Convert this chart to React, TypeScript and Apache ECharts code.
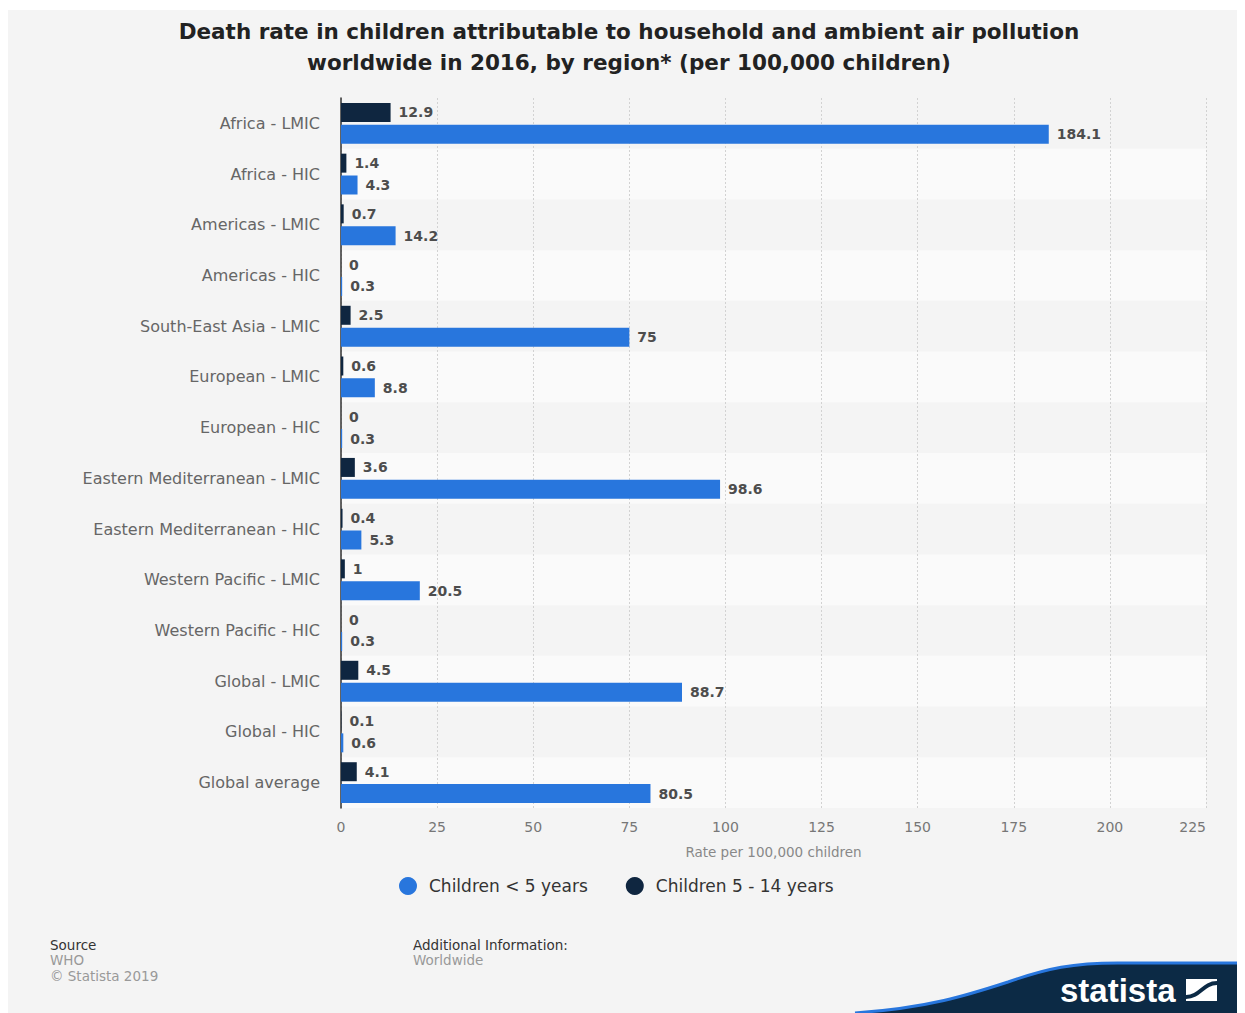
import React, { useEffect, useRef } from "react";
import * as echarts from "echarts";

const categories = [
  "Africa - LMIC",
  "Africa - HIC",
  "Americas - LMIC",
  "Americas - HIC",
  "South-East Asia - LMIC",
  "European - LMIC",
  "European - HIC",
  "Eastern Mediterranean - LMIC",
  "Eastern Mediterranean - HIC",
  "Western Pacific - LMIC",
  "Western Pacific - HIC",
  "Global - LMIC",
  "Global - HIC",
  "Global average",
];
const under5 = [184.1, 4.3, 14.2, 0.3, 75, 8.8, 0.3, 98.6, 5.3, 20.5, 0.3, 88.7, 0.6, 80.5];
const age5to14 = [12.9, 1.4, 0.7, 0, 2.5, 0.6, 0, 3.6, 0.4, 1, 0, 4.5, 0.1, 4.1];
const xTicks = { min: 0, max: 225, interval: 25 };

const FONT = '"DejaVu Sans", "Liberation Sans", Arial, sans-serif';
const BLUE = "#2876dd";
const NAVY = "#0f2640";
const W = 1245;
const H = 1010;

export default function App() {
  const ref = useRef<HTMLDivElement>(null);
  useEffect(() => {
    document.documentElement.style.overflow = "hidden";
    echarts.graphic.registerShape(
      "statwave",
      echarts.graphic.extendPath(
        "M 847 1010 L 847 1003 C 920 998 960 985 1000 972 C 1040 958 1065 953 1110 953 L 1245 953 L 1245 1010 Z",
        {}
      )
    );
    echarts.graphic.registerShape(
      "statedge",
      echarts.graphic.extendPath(
        "M 847 1003 C 920 998 960 985 1000 972 C 1040 958 1065 953 1110 953 L 1245 953",
        {}
      )
    );
    const chart = echarts.init(ref.current!, null, { renderer: "svg" });
    const labelStyle = {
      show: true,
      position: "right" as const,
      distance: 8,
      fontSize: 14,
      fontWeight: "bold" as const,
      color: "#4d4d4d",
      fontFamily: FONT,
    };
    chart.setOption({
      animation: false,
      backgroundColor: "#f4f4f4",
      textStyle: { fontFamily: FONT },
      title: {
        text: "Death rate in children attributable to household and ambient air pollution\nworldwide in 2016, by region* (per 100,000 children)",
        left: 616,
        textAlign: "center",
        top: 1,
        textStyle: {
          fontSize: 21.5,
          fontWeight: "bold",
          color: "#222",
          lineHeight: 31,
          fontFamily: FONT,
        },
      },
      legend: {
        data: ["Children < 5 years", "Children 5 - 14 years"],
        top: 862,
        left: 386,
        icon: "circle",
        itemWidth: 18,
        itemHeight: 18,
        itemGap: 38,
        textStyle: { fontSize: 17, color: "#333", fontFamily: FONT, padding: [0, 0, 0, 7] },
      },
      grid: { left: 333, right: W - 1198, top: 88, bottom: H - 798, containLabel: false },
      xAxis: {
        type: "value",
        min: xTicks.min,
        max: xTicks.max,
        interval: xTicks.interval,
        name: "Rate per 100,000 children",
        nameLocation: "middle",
        nameGap: 37,
        nameTextStyle: { fontSize: 13.5, color: "#888", fontFamily: FONT },
        axisLine: { show: false },
        axisTick: { show: false },
        axisLabel: { fontSize: 14, color: "#777", margin: 12, alignMaxLabel: "right", fontFamily: FONT },
        splitLine: { show: true, lineStyle: { color: "#d2d2d2", type: [2, 2], width: 1 } },
      },
      yAxis: {
        type: "category",
        inverse: true,
        data: categories,
        axisLine: { show: true, lineStyle: { color: "#333", width: 1.5 } },
        axisTick: { show: false },
        axisLabel: { fontSize: 16, color: "#666", margin: 21, fontFamily: FONT },
        splitArea: { show: true, areaStyle: { color: ["rgba(0,0,0,0)", "#fafafa"] } },
      },
      series: [
        {
          name: "Children 5 - 14 years",
          type: "bar",
          data: age5to14,
          barWidth: 19,
          barGap: "15%",
          itemStyle: { color: NAVY },
          label: labelStyle,
        },
        {
          name: "Children < 5 years",
          type: "bar",
          data: under5,
          barWidth: 19,
          barGap: "15%",
          itemStyle: { color: BLUE },
          label: labelStyle,
        },
      ],
      graphic: [
        { type: "text", left: 42, top: 928, style: { text: "Source", fill: "#333", font: `13.5px ${FONT}` } },
        { type: "text", left: 42, top: 943, style: { text: "WHO", fill: "#999", font: `13.5px ${FONT}` } },
        { type: "text", left: 42, top: 959, style: { text: "© Statista 2019", fill: "#999", font: `13.5px ${FONT}` } },
        { type: "text", left: 405, top: 928, style: { text: "Additional Information:", fill: "#333", font: `13.5px ${FONT}` } },
        { type: "text", left: 405, top: 943, style: { text: "Worldwide", fill: "#999", font: `13.5px ${FONT}` } },
        { type: "statwave", x: 0, y: 0, style: { fill: "#0c2a45" } },
        { type: "statedge", x: 0, y: 0, style: { fill: "none", stroke: BLUE, lineWidth: 3 } },
        {
          type: "text",
          x: 1052,
          y: 980,
          style: {
            text: "statista",
            fill: "#fff",
            font: `bold 33px "Liberation Sans", Arial, sans-serif`,
            textVerticalAlign: "middle",
          },
        },
        { type: "rect", shape: { x: 1178, y: 969, width: 31, height: 22 }, style: { fill: "#fff" } },
        {
          type: "bezierCurve",
          shape: { x1: 1178, y1: 987, cpx1: 1192, cpy1: 987, cpx2: 1195, cpy2: 973, x2: 1209, y2: 973 },
          style: { stroke: "#0c2a45", lineWidth: 4, fill: "none" },
        },
      ],
    });
    return () => chart.dispose();
  }, []);
  return (
    <div
      ref={ref}
      style={{ width: W, height: H, position: "relative", top: 2 }}
    />
  );
}
